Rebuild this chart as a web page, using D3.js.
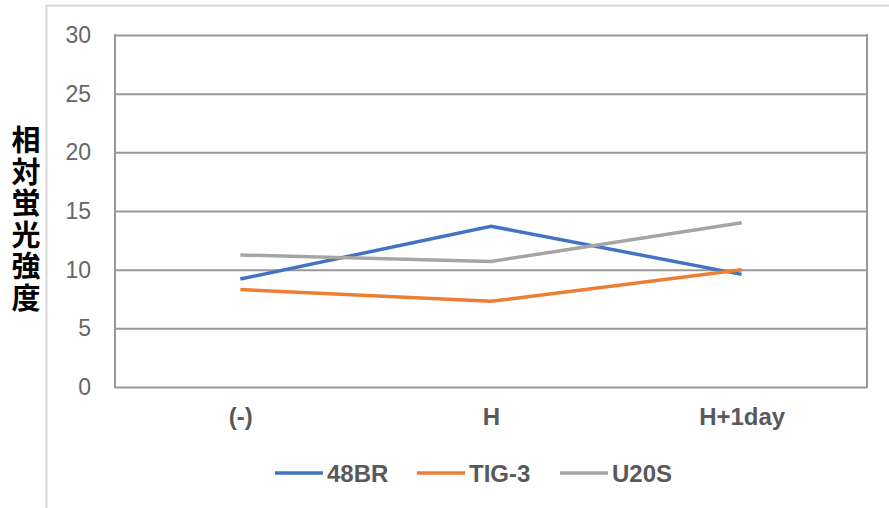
<!DOCTYPE html>
<html>
<head>
<meta charset="utf-8">
<script src="https://cdn.jsdelivr.net/npm/d3@7"></script>
<style>
  html, body { margin: 0; padding: 0; background: #fff; }
  svg { display: block; }
</style>
</head>
<body>
<svg id="chart" width="889" height="508"></svg>
<script>
// Conditions on the x axis
const categories = ["(-)", "H", "H+1day"];
// Relative fluorescence intensity per cell line
const seriesNames = ["48BR", "TIG-3", "U20S"];
const values48BR = [9.2, 13.7, 9.6];
const valuesTIG3 = [8.3, 7.3, 10.0];
const valuesU20S = [11.25, 10.7, 14.0];
const yTicks = [0, 5, 10, 15, 20, 25, 30];
const yTitle = "相対蛍光強度";

const seriesColors = ["#4472C4", "#ED7D31", "#A5A5A5"];
const series = [values48BR, valuesTIG3, valuesU20S].map((v, i) => ({
  name: seriesNames[i], values: v, color: seriesColors[i]
}));

const latin = "Liberation Sans, Arial, sans-serif";
const svg = d3.select("#chart");
const m = { left: 115, right: 867, top: 35, bottom: 387 };

// Outer frame edges
svg.append("line").attr("x1", 46.5).attr("x2", 46.5).attr("y1", 5).attr("y2", 508)
  .attr("stroke", "#d9d9d9").attr("stroke-width", 2);
svg.append("line").attr("x1", 46).attr("x2", 889).attr("y1", 5.5).attr("y2", 5.5)
  .attr("stroke", "#d9d9d9").attr("stroke-width", 2);

const x = d3.scalePoint().domain(categories).range([m.left, m.right]).padding(0.5);
const y = d3.scaleLinear().domain([0, 30]).range([m.bottom, m.top]);

// Horizontal gridlines and tick labels
const yAxis = d3.axisLeft(y).tickValues(yTicks).tickSize(-(m.right - m.left)).tickPadding(24);
const gy = svg.append("g").attr("transform", `translate(${m.left},0)`).call(yAxis);
gy.select(".domain").remove();
gy.selectAll(".tick line").attr("stroke", "#999").attr("stroke-width", 2);
gy.selectAll(".tick text")
  .attr("fill", "#666").attr("font-family", latin).attr("font-size", 23);

// Vertical plot edges
[m.left, m.right].forEach(px => {
  svg.append("line").attr("x1", px).attr("x2", px).attr("y1", m.top - 1).attr("y2", m.bottom + 1)
    .attr("stroke", "#999").attr("stroke-width", 2);
});

// Category labels
const xAxis = d3.axisBottom(x).tickSize(0).tickPadding(21);
const gx = svg.append("g").attr("transform", `translate(0,${m.bottom})`).call(xAxis);
gx.select(".domain").remove();
gx.selectAll(".tick text")
  .attr("fill", "#595959").attr("font-weight", "bold")
  .attr("font-family", latin).attr("font-size", 24);

// Series lines
const line = d3.line().x((d, i) => x(categories[i])).y(d => y(d));
svg.append("g").selectAll("path").data(series).join("path")
  .attr("d", d => line(d.values))
  .attr("fill", "none").attr("stroke", d => d.color)
  .attr("stroke-width", 3.5).attr("stroke-linejoin", "miter");

// Vertical axis title, one character per row
const title = svg.append("text").attr("font-family", "Noto Sans CJK JP, sans-serif")
  .attr("font-weight", "bold").attr("font-size", 29).attr("fill", "#000")
  .attr("text-anchor", "middle").attr("dominant-baseline", "central");
Array.from(yTitle).forEach((ch, i) => {
  title.append("tspan").attr("x", 26).attr("y", 138 + i * 31.6).text(ch);
});

// Legend
const legendX = [275, 417, 560];
const lg = svg.append("g").selectAll("g").data(series).join("g")
  .attr("transform", (d, i) => `translate(${legendX[i]},473)`);
lg.append("line").attr("x1", 0).attr("x2", 48).attr("y1", 0).attr("y2", 0)
  .attr("stroke", d => d.color).attr("stroke-width", 3.5);
lg.append("text").attr("x", 52).attr("y", 0).attr("dy", "0.36em")
  .attr("fill", "#595959").attr("font-weight", "bold")
  .attr("font-family", latin).attr("font-size", 24)
  .text(d => d.name);
</script>
</body>
</html>
